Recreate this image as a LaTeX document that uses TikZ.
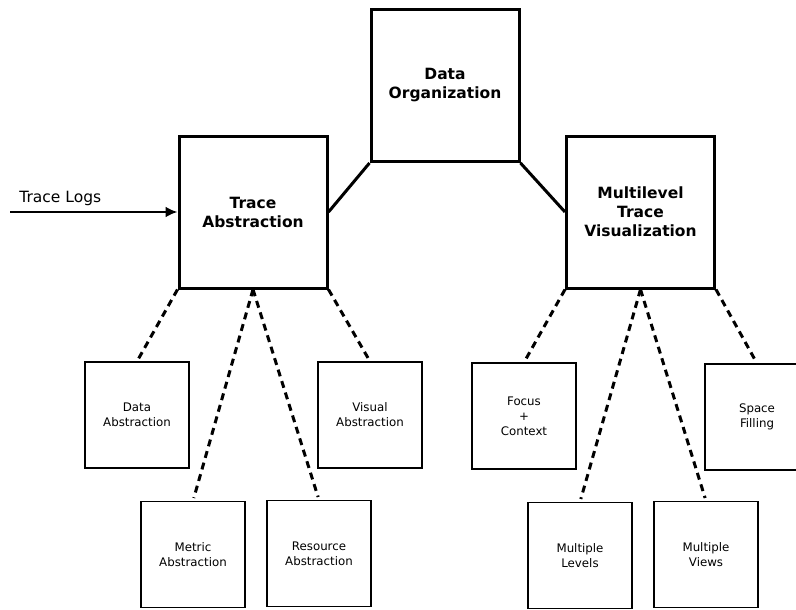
\documentclass[tikz,border=0pt]{standalone}
\usepackage{fontspec}
\setmainfont{DejaVu Sans}
\usetikzlibrary{arrows,arrows.meta}

\begin{document}
\begin{tikzpicture}[x=1pt,y=-1pt]
      \tikzset{main box/.style={draw, line width=3pt,
          minimum width=148pt, minimum height=152pt,
          inner sep=0pt, align=center,
          font=\fontsize{15.5}{19}\selectfont\bfseries},
        sub box/.style={draw, line width=1.2pt,
          minimum width=104pt, minimum height=106pt,
          inner sep=0pt, align=center,
          font=\fontsize{11.8}{15}\selectfont},
        link/.style={line width=3pt, dash pattern=on 7pt off 5pt, shorten >=3pt}
      }
      \useasboundingbox (0,0) rectangle (796,610);
      \clip (0,0) rectangle (796,610);
      \node [main box] (org) at (445,85.5) {Data\\Organization};
      \node [main box] (ta) at (253,212) {Trace\\Abstraction};
      \node [main box] (mtv) at (640.5,212) {Multilevel\\Trace\\Visualization};
      \node [sub box] (da) at (137,415) {Data\\Abstraction};
      \node [sub box] (ma) at (193,554.5) {Metric\\Abstraction};
      \node [sub box] (ra) at (319,553.5) {Resource\\Abstraction};
      \node [sub box] (va) at (370,415) {Visual\\Abstraction};
      \node [sub box] (fc) at (524,416) {Focus\\+\\Context};
      \node [sub box] (ml) at (580,555.5) {Multiple\\Levels};
      \node [sub box] (mv) at (706,554.5) {Multiple\\Views};
      \node [sub box] (sf) at (757,417) {Space\\Filling};
      \coordinate (logs) at (10,212);
      \draw [-{Latex[length=12pt,width=11pt]}, line width=2.5pt] (logs) -- node [pos=0.3, above=2pt, font=\fontsize{15.5}{17}\selectfont] (logstext) {Trace Logs} (ta.west);
      \draw [line width=3pt] (ta.east)--(org.south west) (mtv.west)--(org.south east);
      \draw [link] (ta.south west)--(da.north);
      \draw [link] (ta.south)--(ma.north);
      \draw [link] (ta.south)--(ra.north);
      \draw [link] (ta.south east)--(va.north);
      \draw [link] (mtv.south west)--(fc.north);
      \draw [link] (mtv.south)--(ml.north);
      \draw [link] (mtv.south)--(mv.north);
      \draw [link] (mtv.south east)--(sf.north);
    \end{tikzpicture}
\end{document}
